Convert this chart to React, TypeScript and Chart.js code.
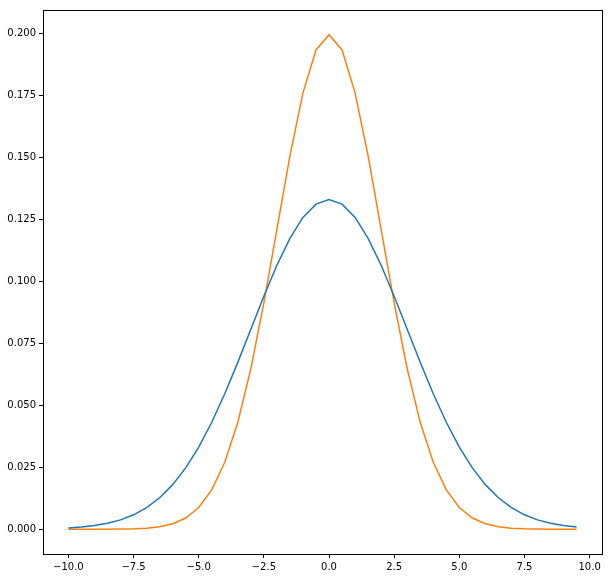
import React, { useEffect, useRef } from "react";
import { Chart, registerables } from "chart.js";

Chart.register(...registerables);

const xValues = [
  -10, -9.5, -9, -8.5, -8, -7.5, -7, -6.5, -6, -5.5, -5, -4.5, -4, -3.5, -3, -2.5, -2, -1.5, -1, -0.5,
  0, 0.5, 1, 1.5, 2, 2.5, 3, 3.5, 4, 4.5, 5, 5.5, 6, 6.5, 7, 7.5, 8, 8.5, 9, 9.5,
];

const blueValues = [
  0.000514, 0.000884, 0.00148, 0.0024, 0.0038, 0.00584, 0.00874, 0.01272, 0.018, 0.02477,
  0.03316, 0.04317, 0.05467, 0.06733, 0.08066, 0.09397, 0.10648, 0.11736, 0.12579, 0.13115,
  0.13298, 0.13115, 0.12579, 0.11736, 0.10648, 0.09397, 0.08066, 0.06733, 0.05467, 0.04317,
  0.03316, 0.02477, 0.018, 0.01272, 0.00874, 0.00584, 0.0038, 0.0024, 0.00148, 0.000884,
];

const orangeValues = [
  0.0000007, 0.0000025, 0.000008, 0.0000239, 0.0000669, 0.000176, 0.000436, 0.00102, 0.00222, 0.00455,
  0.00876, 0.01587, 0.027, 0.04314, 0.06476, 0.09132, 0.12098, 0.15057, 0.17603, 0.19333,
  0.19947, 0.19333, 0.17603, 0.15057, 0.12098, 0.09132, 0.06476, 0.04314, 0.027, 0.01587,
  0.00876, 0.00455, 0.00222, 0.00102, 0.000436, 0.000176, 0.0000669, 0.0000239, 0.000008, 0.0000025,
];

const xTicks = [-10, -7.5, -5, -2.5, 0, 2.5, 5, 7.5, 10];
const yTicks = [0, 0.025, 0.05, 0.075, 0.1, 0.125, 0.15, 0.175, 0.2];

const fmt = (v: number, d: number) => v.toFixed(d).replace("-", "\u2212");

const framePlugin = {
  id: "frame",
  afterDraw(chart: any) {
    const { ctx, chartArea } = chart;
    ctx.save();
    ctx.strokeStyle = "#000";
    ctx.lineWidth = 1;
    ctx.strokeRect(
      Math.round(chartArea.left) + 0.5,
      Math.round(chartArea.top) + 0.5,
      Math.round(chartArea.right - chartArea.left),
      Math.round(chartArea.bottom - chartArea.top)
    );
    ctx.restore();
  },
};

export default function App() {
  const ref = useRef<HTMLCanvasElement>(null);
  useEffect(() => {
    if (!ref.current) return;
    const font = { family: "DejaVu Sans", size: 10 };
    const chart = new Chart(ref.current, {
      type: "line",
      data: {
        datasets: [
          {
            data: xValues.map((x, i) => ({ x, y: blueValues[i] })),
            borderColor: "#1f77b4",
            borderWidth: 1.5,
            pointRadius: 0,
            fill: false,
            tension: 0,
          },
          {
            data: xValues.map((x, i) => ({ x, y: orangeValues[i] })),
            borderColor: "#ff7f0e",
            borderWidth: 1.5,
            pointRadius: 0,
            fill: false,
            tension: 0,
          },
        ],
      },
      options: {
        animation: false,
        responsive: false,
        devicePixelRatio: 1,
        layout: { padding: { top: 10, right: 9, left: 0, bottom: 0 } },
        plugins: { legend: { display: false }, tooltip: { enabled: false } },
        scales: {
          x: {
            type: "linear",
            min: -10.975,
            max: 10.475,
            afterBuildTicks: (s: any) => {
              s.ticks = xTicks.map((v) => ({ value: v }));
            },
            afterFit: (s: any) => {
              s.height = 24;
            },
            grid: { display: true, drawOnChartArea: false, drawTicks: true, tickLength: 4, color: "#000" },
            border: { display: false },
            ticks: {
              color: "#000",
              font,
              padding: 3,
              maxRotation: 0,
              autoSkip: false,
              callback: (v: any) => fmt(Number(v), 1),
            },
          },
          y: {
            type: "linear",
            min: -0.00997,
            max: 0.20944,
            afterBuildTicks: (s: any) => {
              s.ticks = yTicks.map((v) => ({ value: v }));
            },
            afterFit: (s: any) => {
              s.width = 43;
            },
            grid: { display: true, drawOnChartArea: false, drawTicks: true, tickLength: 4, color: "#000" },
            border: { display: false },
            ticks: {
              color: "#000",
              font,
              padding: 3,
              autoSkip: false,
              callback: (v: any) => fmt(Number(v), 3),
            },
          },
        },
      },
      plugins: [framePlugin],
    });
    return () => chart.destroy();
  }, []);
  return (
    <div style={{ position: "fixed", left: 0, top: 0, width: 611, height: 578, background: "#fff" }}>
      <canvas ref={ref} width={611} height={578} />
    </div>
  );
}
